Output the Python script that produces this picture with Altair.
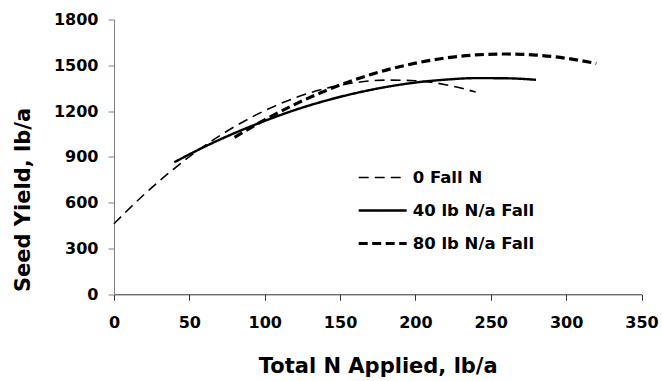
import altair as alt
import pandas as pd

# Fitted seed-yield response curves (lb/a) by total N applied (lb/a)
series_names = ["0 Fall N", "40 lb N/a Fall", "80 lb N/a Fall"]

n0_x = [0, 20, 40, 60, 80, 100, 120, 140, 160, 180, 200, 220, 240]
n0_y = [462, 654, 824, 972, 1098, 1203, 1286, 1347, 1386, 1403, 1399, 1373, 1325]

n40_x = [40, 60, 80, 100, 120, 140, 160, 180, 200, 220, 240, 260, 280]
n40_y = [865, 966, 1056, 1136, 1207, 1267, 1317, 1357, 1387, 1406, 1416, 1415, 1405]

n80_x = [80, 100, 120, 140, 160, 180, 200, 220, 240, 260, 280, 300, 320]
n80_y = [1028, 1143, 1244, 1332, 1406, 1467, 1514, 1548, 1568, 1574, 1567, 1546, 1512]

x_ticks = [0, 50, 100, 150, 200, 250, 300, 350]
y_ticks = [0, 300, 600, 900, 1200, 1500, 1800]

rows = []
for name, xs, ys in zip(series_names, [n0_x, n40_x, n80_x], [n0_y, n40_y, n80_y]):
    for xv, yv in zip(xs, ys):
        rows.append({"series": name, "n": xv, "yield": yv})
df = pd.DataFrame(rows)

FONT = "DejaVu Sans"

chart = (
    alt.Chart(df)
    .mark_line(interpolate="monotone", strokeCap="butt")
    .encode(
        x=alt.X(
            "n:Q",
            scale=alt.Scale(domain=[0, 350], nice=False),
            axis=alt.Axis(
                title="Total N Applied, lb/a",
                values=x_ticks,
                format="d",
                labelFlush=False,
                labelOverlap=False,
                grid=False,
                domainColor="#333333",
                tickColor="#333333",
                tickSize=6,
                labelPadding=14,
                labelFontSize=16,
                titleFontSize=21,
                titleBaseline="alphabetic",
                titleY=78,
            ),
        ),
        y=alt.Y(
            "yield:Q",
            scale=alt.Scale(domain=[0, 1800], nice=False),
            axis=alt.Axis(
                title="Seed Yield, lb/a",
                values=y_ticks,
                format="d",
                labelFlush=False,
                labelOverlap=False,
                grid=False,
                domainColor="#808080",
                tickColor="#808080",
                tickSize=6,
                labelPadding=10,
                labelFontSize=16,
                titleFontSize=21,
                titleX=-81,
                titleY=180,
            ),
        ),
        color=alt.Color(
            "series:N",
            scale=alt.Scale(domain=series_names, range=["black", "black", "black"]),
            legend=alt.Legend(title=None),
        ),
        strokeDash=alt.StrokeDash(
            "series:N",
            scale=alt.Scale(domain=series_names, range=[[10, 6], [1, 0], [9, 4.5]]),
            legend=alt.Legend(title=None),
        ),
        strokeWidth=alt.StrokeWidth(
            "series:N",
            scale=alt.Scale(domain=series_names, range=[1.6, 3.2, 3.6]),
            legend=alt.Legend(title=None),
        ),
        order="n:Q",
    )
    .properties(
        width=527.5,
        height=274.8,
        autosize=alt.AutoSizeParams(type="none"),
        padding={"left": 114, "top": 19.5, "right": 20.5, "bottom": 86.7},
    )
    .configure_view(stroke=None)
    .configure_axis(
        labelFont=FONT,
        labelFontWeight="bold",
        labelColor="black",
        titleFont=FONT,
        titleFontWeight="bold",
        titleColor="black",
    )
    .configure_legend(
        orient="none",
        legendX=242.7,
        legendY=148,
        padding=0,
        symbolType="stroke",
        symbolSize=2304,
        clipHeight=20,
        rowPadding=13,
        labelOffset=4,
        labelFont=FONT,
        labelFontWeight="bold",
        labelFontSize=16.5,
        labelColor="black",
        labelLimit=300,
    )
)

chart.save("out.html", embed_options={"renderer": "svg", "actions": False})
